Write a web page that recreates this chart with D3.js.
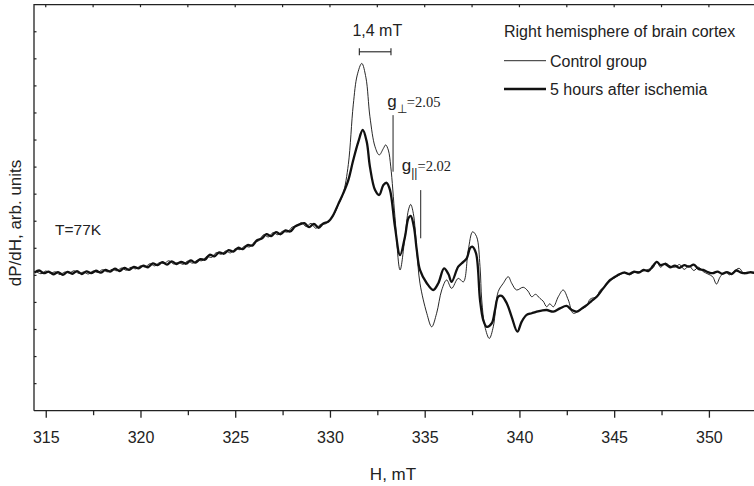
<!DOCTYPE html>
<html>
<head>
<meta charset="utf-8">
<script src="https://cdn.jsdelivr.net/npm/d3@7"></script>
<style>
  body { margin: 0; background: #fff; }
  svg { display: block; font-family: "Liberation Sans", Arial, sans-serif; }
  .frame { stroke: #222; stroke-width: 1.3; fill: none; }
  .axis path, .axis line { stroke: #222; stroke-width: 1.3; }
  .axis text { font-size: 16px; fill: #222; }
</style>
</head>
<body>
<svg id="chart" width="754" height="486"></svg>
<script>
// ---- data ----
// magnetic field, mT, and dP/dH (arb. units) for each spectrum
var fieldControl = [
  314.5, 314.75, 315.0, 315.25, 315.5, 315.75, 316.0, 316.25, 316.5, 316.75,
  317.0, 317.25, 317.5, 317.75, 318.0, 318.25, 318.5, 318.75, 319.0, 319.25,
  319.5, 319.75, 320.0, 320.25, 320.5, 320.75, 321.0, 321.25, 321.5, 321.75,
  322.0, 322.25, 322.5, 322.75, 323.0, 323.25, 323.5, 323.75, 324.0, 324.25,
  324.5, 324.75, 325.0, 325.25, 325.5, 325.75, 326.0, 326.25, 326.5, 326.75,
  327.0, 327.25, 327.5, 327.75, 328.0, 328.25, 328.5, 328.75, 329.0, 329.25,
  329.5, 329.75, 330.0, 330.25, 330.45, 330.7, 330.97, 331.23, 331.44, 331.68,
  331.9, 332.11, 332.38, 332.6, 332.82, 332.94, 333.08, 333.21, 333.43, 333.7,
  333.96, 334.14, 334.26, 334.4, 334.58, 334.75, 335.11, 335.37, 335.63, 335.9,
  336.16, 336.42, 336.77, 337.04, 337.3, 337.53, 337.74, 337.92, 338.01, 338.18,
  338.41, 338.62, 338.88, 339.15, 339.41, 339.59, 339.85, 340.2, 340.45, 340.65,
  340.85, 341.08, 341.25, 341.44, 341.6, 341.79, 342.05, 342.31, 342.58, 342.84,
  343.2, 343.55, 343.73, 344.08, 344.26, 344.5, 344.8, 345.05, 345.3, 345.55,
  345.8, 346.05, 346.3, 346.55, 346.8, 347.05, 347.25, 347.45, 347.7, 347.95,
  348.2, 348.45, 348.7, 348.95, 349.2, 349.45, 349.7, 349.95, 350.2, 350.4,
  350.6, 350.85, 351.1, 351.35, 351.6, 351.85, 352.1, 352.45
];
var dpdhControl = [
  0.14, 0.06, 0.16, 0.08, 0.13, 0.03, 0.12, 0.09, 0.17, 0.07,
  0.12, 0.05, 0.16, 0.11, 0.21, 0.13, 0.22, 0.17, 0.27, 0.19,
  0.30, 0.24, 0.35, 0.31, 0.43, 0.35, 0.47, 0.44, 0.54, 0.42,
  0.48, 0.41, 0.53, 0.45, 0.56, 0.54, 0.70, 0.66, 0.84, 0.78,
  0.90, 0.83, 0.98, 0.95, 1.08, 1.05, 1.22, 1.28, 1.50, 1.42,
  1.58, 1.50, 1.63, 1.60, 1.78, 1.84, 1.95, 1.80, 1.92, 1.74,
  1.88, 1.90, 2.05, 2.30, 2.62, 3.03, 4.10, 6.30, 7.40, 7.83,
  7.30, 5.86, 4.75, 4.45, 4.69, 4.82, 4.63, 4.01, 2.17, 0.20,
  1.43, 2.41, 2.62, 2.29, 0.94, -0.29, -1.40, -1.90, -1.40, -0.54,
  -0.17, -0.48, -0.11, -0.24, 0.94, 1.61, 1.43, 0.32, -0.91, -1.90,
  -2.33, -1.90, -0.60, -0.29, -0.05, -0.29, -0.54, -0.44, -0.58, -0.79,
  -0.70, -0.85, -0.95, -1.16, -1.05, -1.16, -0.79, -0.54, -0.91, -1.40,
  -1.28, -1.12, -0.88, -0.78, -0.55, -0.42, -0.20, -0.08, 0.02, 0.12,
  0.02, 0.10, 0.14, 0.16, 0.22, 0.28, 0.52, 0.30, 0.45, 0.35,
  0.30, 0.40, 0.22, 0.36, 0.18, 0.30, 0.14, 0.05, -0.05, -0.32,
  -0.05, 0.12, 0.02, 0.16, 0.26, 0.06, 0.10, 0.06
];

var fieldIschemia = [
  314.4, 314.65, 314.9, 315.15, 315.4, 315.65, 315.9, 316.15, 316.4, 316.65,
  316.9, 317.15, 317.4, 317.65, 317.9, 318.15, 318.4, 318.65, 318.9, 319.15,
  319.4, 319.65, 319.9, 320.15, 320.4, 320.65, 320.9, 321.15, 321.4, 321.65,
  321.9, 322.15, 322.4, 322.65, 322.9, 323.15, 323.4, 323.65, 323.9, 324.15,
  324.4, 324.65, 324.9, 325.15, 325.4, 325.65, 325.9, 326.15, 326.4, 326.65,
  326.9, 327.15, 327.4, 327.65, 327.9, 328.15, 328.4, 328.65, 328.9, 329.15,
  329.4, 329.65, 329.9, 330.15, 330.45, 330.7, 330.97, 331.23, 331.5, 331.73,
  331.94, 332.11, 332.38, 332.6, 332.82, 332.99, 333.17, 333.43, 333.7, 333.96,
  334.14, 334.26, 334.43, 334.58, 334.75, 335.11, 335.45, 335.72, 336.02, 336.25,
  336.42, 336.77, 337.04, 337.22, 337.39, 337.51, 337.71, 337.92, 338.09, 338.27,
  338.54, 338.71, 338.88, 339.06, 339.33, 339.59, 339.89, 340.12, 340.38, 340.65,
  340.91, 341.17, 341.44, 341.79, 342.14, 342.49, 342.76, 343.02, 343.3, 343.55,
  343.8, 344.08, 344.4, 344.79, 345.05, 345.3, 345.55, 345.8, 346.05, 346.3,
  346.55, 346.8, 347.05, 347.25, 347.45, 347.7, 347.95, 348.2, 348.45, 348.7,
  348.95, 349.2, 349.45, 349.7, 349.95, 350.2, 350.45, 350.7, 350.95, 351.2,
  351.45, 351.7, 351.95, 352.2, 352.45
];
var dpdhIschemia = [
  0.10, 0.18, 0.08, 0.14, 0.04, 0.12, 0.02, 0.13, 0.06, 0.16,
  0.05, 0.15, 0.08, 0.17, 0.10, 0.20, 0.14, 0.25, 0.16, 0.28,
  0.20, 0.31, 0.26, 0.36, 0.30, 0.44, 0.38, 0.49, 0.40, 0.52,
  0.42, 0.50, 0.43, 0.55, 0.47, 0.60, 0.58, 0.76, 0.70, 0.85,
  0.80, 0.93, 0.88, 1.02, 0.97, 1.12, 1.10, 1.30, 1.36, 1.52,
  1.45, 1.60, 1.52, 1.66, 1.62, 1.80, 1.88, 1.93, 1.78, 1.90,
  1.76, 1.92, 1.98, 2.20, 2.65, 3.03, 3.52, 4.26, 4.94, 5.37,
  4.94, 4.01, 3.15, 2.97, 3.34, 3.42, 3.15, 1.80, 0.75, 1.43,
  2.11, 2.20, 1.80, 0.94, 0.20, -0.29, -0.54, -0.29, 0.26, 0.05,
  -0.24, 0.32, 0.50, 0.63, 1.00, 1.06, 0.81, -0.91, -1.65, -1.90,
  -1.77, -1.28, -0.79, -0.76, -1.03, -1.53, -2.08, -1.71, -1.46, -1.40,
  -1.34, -1.30, -1.28, -1.34, -1.22, -1.13, -1.28, -1.34, -1.22, -1.10,
  -0.95, -0.79, -0.50, -0.17, -0.05, 0.05, 0.10, 0.05, 0.14, 0.10,
  0.20, 0.16, 0.35, 0.50, 0.38, 0.42, 0.30, 0.36, 0.28, 0.38,
  0.32, 0.40, 0.24, 0.20, 0.12, 0.08, 0.14, 0.06, 0.12, 0.05,
  0.18, 0.10, 0.08, 0.12, 0.08
];

var seriesNames = ["Control group", "5 hours after ischemia"];
var legendTitle = "Right hemisphere of brain cortex";
var xTicks = d3.range(315, 352.5, 2.5);
var yTicks = d3.range(-4, 10, 1);

// ---- layout ----
var svg = d3.select("#chart"),
    plotL = 34, plotR = 754, plotT = 4.7, plotB = 410.7;

var x = d3.scaleLinear().domain([314.38, 352.38]).range([plotL, plotR]);
var y = d3.scaleLinear().domain([-5, 10]).range([plotB, plotT]);

svg.append("clipPath").attr("id", "plotclip")
  .append("rect").attr("x", plotL).attr("y", plotT)
  .attr("width", plotR - plotL).attr("height", plotB - plotT);

// frame: top and left edges (bottom comes with the axis)
svg.append("path").attr("class", "frame")
  .attr("d", "M" + plotL + "," + plotB + "V" + plotT + "H" + (plotR + 2));

// left inner ticks
svg.append("g").selectAll("line").data(yTicks).enter().append("line")
  .attr("x1", plotL).attr("x2", plotL + 2.5)
  .attr("y1", function(d) { return y(d); }).attr("y2", function(d) { return y(d); })
  .attr("stroke", "#222").attr("stroke-width", 1.2);

// top inner ticks
svg.append("g").selectAll("line").data(xTicks).enter().append("line")
  .attr("x1", function(d) { return x(d); }).attr("x2", function(d) { return x(d); })
  .attr("y1", plotT).attr("y2", plotT + 2.5)
  .attr("stroke", "#222").attr("stroke-width", 1.2);

// bottom axis, labels on every 5 mT
var xAxis = d3.axisBottom(x).tickValues(xTicks).tickSize(7).tickPadding(14)
  .tickFormat(function(d) { return d % 5 === 0 ? d : ""; });
var gx = svg.append("g").attr("class", "axis")
  .attr("transform", "translate(0," + plotB + ")").call(xAxis);
gx.select(".domain").attr("d", "M" + plotL + ",0H" + (plotR + 2));
gx.selectAll(".tick line").attr("y2", function(d) { return d % 5 === 0 ? 7 : 4.5; });
gx.selectAll(".tick text").attr("font-family", "Liberation Sans, Arial, sans-serif");

// ---- spectra ----
var line = d3.line()
  .x(function(d) { return x(d[0]); })
  .y(function(d) { return y(d[1]); })
  .curve(d3.curveCatmullRom.alpha(0.5));

var control = d3.zip(fieldControl, dpdhControl),
    ischemia = d3.zip(fieldIschemia, dpdhIschemia);

var plot = svg.append("g").attr("clip-path", "url(#plotclip)");
plot.append("path").datum(control)
  .attr("d", line).attr("fill", "none")
  .attr("stroke", "#111").attr("stroke-width", 0.9);
plot.append("path").datum(ischemia)
  .attr("d", line).attr("fill", "none")
  .attr("stroke", "#111").attr("stroke-width", 2.3)
  .attr("stroke-linejoin", "round");

// ---- annotations ----
// 1,4 mT scale bar
var bar = [331.55, 333.22], barY = 8.26;
svg.append("line").attr("x1", x(bar[0])).attr("x2", x(bar[1]))
  .attr("y1", y(barY)).attr("y2", y(barY)).attr("stroke", "#222").attr("stroke-width", 1.1);
bar.forEach(function(b) {
  svg.append("line").attr("x1", x(b)).attr("x2", x(b))
    .attr("y1", y(barY) - 3.5).attr("y2", y(barY) + 3.5)
    .attr("stroke", "#222").attr("stroke-width", 1.1);
});
svg.append("text").attr("x", x(332.5)).attr("y", y(8.84))
  .attr("text-anchor", "middle").attr("font-size", 16).attr("fill", "#222")
  .text("1,4 mT");

// g-factor markers
var gMarks = [
  { h: 333.33, y0: 5.92, y1: 3.83, lx: 333.03, ly: 6.22, sub: "\u22A5", val: "=2.05" },
  { h: 334.79, y0: 3.15, y1: 1.37, lx: 333.79, ly: 3.86, sub: "||", val: "=2.02" }
];
gMarks.forEach(function(m) {
  svg.append("line").attr("x1", x(m.h)).attr("x2", x(m.h))
    .attr("y1", y(m.y0)).attr("y2", y(m.y1))
    .attr("stroke", "#222").attr("stroke-width", 1);
  var t = svg.append("text").attr("x", x(m.lx)).attr("y", y(m.ly)).attr("fill", "#222");
  t.append("tspan").attr("font-size", 17).text("g");
  t.append("tspan").attr("font-size", 12).attr("dy", 6).text(m.sub);
  t.append("tspan").attr("font-size", 14.5).attr("dy", -6)
    .attr("font-family", "Liberation Serif, Times New Roman, serif").text(m.val);
});

svg.append("text").attr("x", 55).attr("y", 235)
  .attr("font-size", 15.5).attr("fill", "#222").text("T=77K");

// ---- legend ----
var legend = svg.append("g").attr("fill", "#222").attr("font-size", 16);
legend.append("text").attr("x", 504).attr("y", 37).text(legendTitle);
seriesNames.forEach(function(name, i) {
  var ly = 60.7 + i * 28.3;
  legend.append("line").attr("x1", 504).attr("x2", 546)
    .attr("y1", ly).attr("y2", ly)
    .attr("stroke", "#111").attr("stroke-width", i === 0 ? 0.9 : 2.3);
  legend.append("text").attr("x", 550).attr("y", ly + 5.8).text(name);
});

// ---- axis titles ----
svg.append("text").attr("x", 393).attr("y", 480)
  .attr("text-anchor", "middle").attr("font-size", 17).attr("fill", "#222")
  .text("H, mT");
svg.append("text")
  .attr("transform", "translate(21,223) rotate(-90)")
  .attr("text-anchor", "middle").attr("font-size", 17).attr("fill", "#222")
  .text("dP/dH, arb. units");
</script>
</body>
</html>
